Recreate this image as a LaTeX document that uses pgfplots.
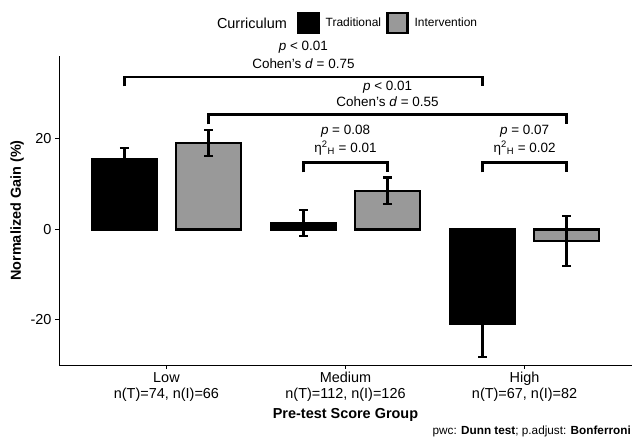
\documentclass[border=0pt]{standalone}
\usepackage{pgfplots}
\pgfplotsset{compat=1.18}
\usepackage{fontspec}
\setmainfont{Liberation Sans}
\definecolor{barGrey}{RGB}{153,153,153}
\begin{document}
\begin{tikzpicture}
\begin{axis}[
  name=ax,
  scale only axis, width=573bp, height=309bp,
  xmin=0.4, xmax=3.6, ymin=-30, ymax=38.3,
  axis x line*=bottom, axis y line*=left,
  axis line style={line width=1bp, -},
  xtick={1,2,3},
  xticklabels={{Low\\n(T)=74, n(I)=66},{Medium\\n(T)=112, n(I)=126},{High\\n(T)=67, n(I)=82}},
  xticklabel style={align=center, font=\fontsize{14.5}{16}\selectfont},
  ytick={-20,0,20}, yticklabels={-20,0,20},
  yticklabel style={font=\fontsize{14.5}{15}\selectfont},
  tick style={black, line width=1bp}, major tick length=4bp, tick align=outside,
  xlabel={\textbf{Pre-test Score Group}}, ylabel={\textbf{Normalized Gain (\%)}},
  label style={font=\fontsize{14.5}{16}\selectfont},
  clip=false,
  legend style={at={(0.41,1.107)}, anchor=west, draw=none, fill=none, legend columns=2,
    font=\fontsize{12}{12}\selectfont,
    /tikz/every even column/.append style={column sep=3bp}},
  legend image code/.code={\draw[#1] (0bp,-10bp) rectangle (20bp,10bp); \path (24bp,0bp);},
]
% Traditional
\addplot[ybar, bar width=0.363, fill=black, draw=black, line width=2.6bp,
  error bars/.cd, y dir=both, y explicit,
  error bar style={line width=2.4bp, black},
  error mark options={line width=2.4bp, mark size=4.5bp, black, rotate=90}]
  coordinates {(0.765,15.4) +- (0,2.6) (1.765,1.4) +- (0,2.9) (2.765,-20.9) +- (0,7.3)};
\addlegendentry{Traditional}
% Intervention
\addplot[ybar, bar width=0.363, fill=barGrey, draw=black, line width=2.6bp,
  error bars/.cd, y dir=both, y explicit,
  error bar style={line width=2.4bp, black},
  error mark options={line width=2.4bp, mark size=4.5bp, black, rotate=90}]
  coordinates {(1.235,19.05) +- (0,2.85) (2.235,8.5) +- (0,2.9) (3.235,-2.6) +- (0,5.5)};
\addlegendentry{Intervention}
% brackets
\addplot[black, line width=2.4bp, forget plot] coordinates {(0.765,31.6) (0.765,33.6) (2.765,33.6) (2.765,31.6)};
\addplot[black, line width=2.4bp, forget plot] coordinates {(1.235,23.2) (1.235,25.4) (3.235,25.4) (3.235,23.2)};
\addplot[black, line width=2.4bp, forget plot] coordinates {(1.765,12.6) (1.765,14.8) (2.235,14.8) (2.235,12.6)};
\addplot[black, line width=2.4bp, forget plot] coordinates {(2.765,12.6) (2.765,14.8) (3.235,14.8) (3.235,12.6)};
% annotations
\tikzset{ann/.style={font=\fontsize{13.5}{14}\selectfont, inner sep=0pt, anchor=center}}
\node[ann] at (axis cs:1.765,40.2) {\textit{p} < 0.01};
\node[ann] at (axis cs:1.765,36.7) {Cohen's \textit{d} = 0.75};
\node[ann] at (axis cs:2.235,31.4) {\textit{p} < 0.01};
\node[ann] at (axis cs:2.235,28.1) {Cohen's \textit{d} = 0.55};
\node[ann] at (axis cs:2,21.7) {\textit{p} = 0.08};
\node[ann] at (axis cs:2,17.9) {η\textsuperscript{2}\textsubscript{H} = 0.01};
\node[ann] at (axis cs:3,21.7) {\textit{p} = 0.07};
\node[ann] at (axis cs:3,17.9) {η\textsuperscript{2}\textsubscript{H} = 0.02};
\node[font=\fontsize{14.5}{15}\selectfont, anchor=east, inner sep=0pt] at (rel axis cs:0.398,1.107) {Curriculum};
\node[font=\fontsize{11.8}{13}\selectfont, anchor=south east, inner sep=0pt] at ([yshift=-72bp,xshift=-1bp]rel axis cs:1,0) {pwc: \textbf{Dunn test}; p.adjust: \textbf{Bonferroni}};
\end{axis}
\pgfresetboundingbox
\path ([xshift=-59bp,yshift=-75bp]ax.south west) rectangle ([xshift=1bp,yshift=56bp]ax.north east);
\end{tikzpicture}
\end{document}
